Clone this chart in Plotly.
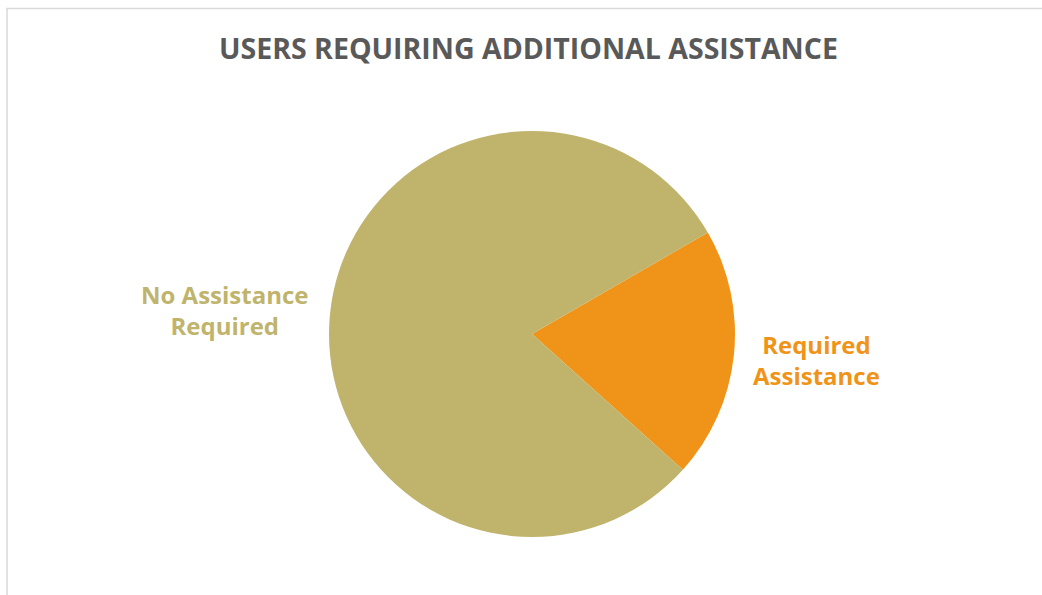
import plotly.graph_objects as go

W, H = 1042, 595

labels = ["Required Assistance", "No Assistance Required"]
values = [20, 80]
colors = ["#EF9419", "#C0B46C"]
label_text = ["Required<br>Assistance", "No Assistance<br>Required"]

title = "USERS REQUIRING ADDITIONAL ASSISTANCE"

cx, cy, r = 532, 334, 203

fig = go.Figure(go.Pie(
    labels=labels,
    values=values,
    sort=False,
    direction="clockwise",
    rotation=60,
    marker=dict(colors=colors, line=dict(width=0)),
    textinfo="none",
    hoverinfo="label+percent",
    showlegend=False,
    domain=dict(x=[(cx - r) / W, (cx + r) / W], y=[(H - cy - r) / H, (H - cy + r) / H]),
))

fig.add_annotation(x=528 / W, y=(H - 47.5) / H, xref="paper", yref="paper",
                   text=f"<b>{title}</b>", showarrow=False,
                   font=dict(family="Open Sans", size=28.5, color="#595959"),
                   xanchor="center", yanchor="middle")

fig.add_annotation(x=224.5 / W, y=(H - 310) / H, xref="paper", yref="paper",
                   text=f"<b>{label_text[1]}</b>", showarrow=False,
                   font=dict(family="Open Sans", size=24, color=colors[1]),
                   xanchor="center", yanchor="middle", align="center")
fig.add_annotation(x=816 / W, y=(H - 360) / H, xref="paper", yref="paper",
                   text=f"<b>{label_text[0]}</b>", showarrow=False,
                   font=dict(family="Open Sans", size=24, color=colors[0]),
                   xanchor="center", yanchor="middle", align="center")

fig.add_shape(type="rect", xref="paper", yref="paper",
              x0=7 / W, x1=1.02, y0=-0.02, y1=(H - 8.5) / H,
              line=dict(color="#D9D9D9", width=1.5), fillcolor="rgba(0,0,0,0)")

fig.update_layout(width=W, height=H, margin=dict(l=0, r=0, t=0, b=0),
                  paper_bgcolor="white", plot_bgcolor="white")

fig.write_html("out.html")
